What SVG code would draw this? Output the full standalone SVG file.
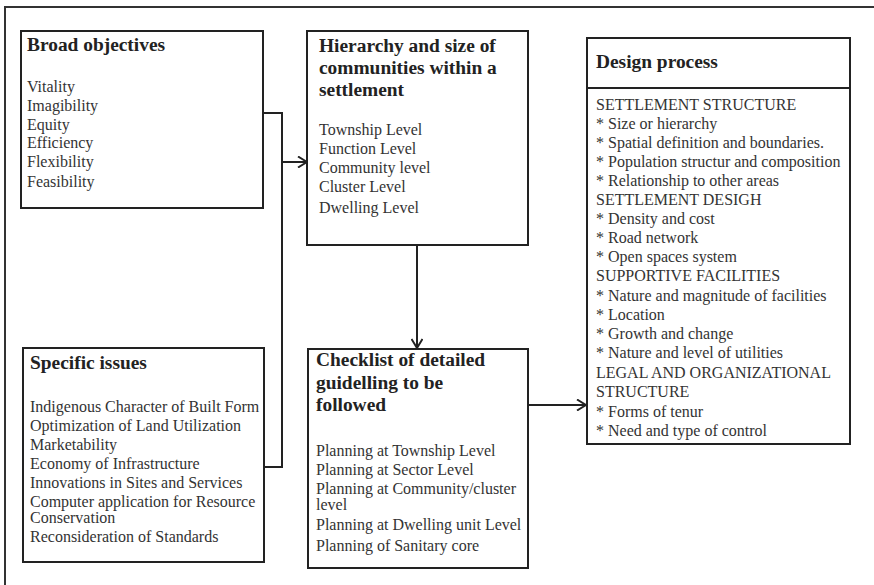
<svg xmlns="http://www.w3.org/2000/svg" width="874" height="585" viewBox="0 0 874 585">
<style>
.box{fill:#fff;stroke:#222;stroke-width:2}
.frame{fill:none;stroke:#333;stroke-width:2}
.ln{fill:none;stroke:#222;stroke-width:2}
.t{font-family:"Liberation Serif","Times New Roman",serif;font-size:16px;fill:#333}
.h{font-family:"Liberation Serif","Times New Roman",serif;font-size:19.4px;font-weight:bold;fill:#222}
</style>
<defs>
<marker id="arr" viewBox="0 0 12 12" refX="11" refY="6" markerWidth="12" markerHeight="12" markerUnits="userSpaceOnUse" orient="auto">
<path d="M2,0.5 L11,6 L2,11.5" fill="none" stroke="#222" stroke-width="2"/>
</marker>
</defs>
<rect width="874" height="585" fill="#fff"/>
<path class="frame" d="M5,585 V7 H874"/>

<g id="broad-objectives">
<rect class="box" x="21" y="31" width="242" height="177"/>
<text class="h" x="27" y="51">Broad objectives</text>
<text class="t" x="27" y="92">Vitality</text>
<text class="t" x="27" y="111">Imagibility</text>
<text class="t" x="27" y="130">Equity</text>
<text class="t" x="27" y="148">Efficiency</text>
<text class="t" x="27" y="167">Flexibility</text>
<text class="t" x="27" y="187">Feasibility</text>
</g>

<g id="specific-issues">
<rect class="box" x="23" y="348" width="241" height="214"/>
<text class="h" x="30" y="369">Specific issues</text>
<text class="t" x="30" y="412">Indigenous Character of Built Form</text>
<text class="t" x="30" y="431">Optimization of Land Utilization</text>
<text class="t" x="30" y="450">Marketability</text>
<text class="t" x="30" y="469">Economy of Infrastructure</text>
<text class="t" x="30" y="488">Innovations in Sites and Services</text>
<text class="t" x="30" y="507">Computer application for Resource</text>
<text class="t" x="30" y="523">Conservation</text>
<text class="t" x="30" y="542">Reconsideration of Standards</text>
</g>

<g id="hierarchy">
<rect class="box" x="307" y="31" width="221" height="214"/>
<text class="h" x="319" y="52">Hierarchy and size of</text>
<text class="h" x="319" y="74">communities within a</text>
<text class="h" x="319" y="96">settlement</text>
<text class="t" x="319" y="135">Township Level</text>
<text class="t" x="319" y="154">Function Level</text>
<text class="t" x="319" y="173">Community level</text>
<text class="t" x="319" y="192">Cluster Level</text>
<text class="t" x="319" y="213">Dwelling Level</text>
</g>

<g id="checklist">
<rect class="box" x="308" y="349" width="220" height="219"/>
<text class="h" x="316" y="366">Checklist of detailed</text>
<text class="h" x="316" y="389">guidelling to be</text>
<text class="h" x="316" y="411">followed</text>
<text class="t" x="316" y="456">Planning at Township Level</text>
<text class="t" x="316" y="475">Planning at Sector Level</text>
<text class="t" x="316" y="494">Planning at Community/cluster</text>
<text class="t" x="316" y="510">level</text>
<text class="t" x="316" y="530">Planning at Dwelling unit Level</text>
<text class="t" x="316" y="551">Planning of Sanitary core</text>
</g>

<g id="design-process">
<rect class="box" x="587" y="38" width="263" height="406"/>
<line class="ln" x1="587" y1="88" x2="850" y2="88"/>
<text class="h" x="596" y="68">Design process</text>
<text class="t" x="596" y="110">SETTLEMENT STRUCTURE</text>
<text class="t" x="596" y="129">* Size or hierarchy</text>
<text class="t" x="596" y="148">* Spatial definition and boundaries.</text>
<text class="t" x="596" y="167">* Population structur and composition</text>
<text class="t" x="596" y="186">* Relationship to other areas</text>
<text class="t" x="596" y="205">SETTLEMENT DESIGH</text>
<text class="t" x="596" y="224">* Density and cost</text>
<text class="t" x="596" y="243">* Road network</text>
<text class="t" x="596" y="262">* Open spaces system</text>
<text class="t" x="596" y="281">SUPPORTIVE FACILITIES</text>
<text class="t" x="596" y="301">* Nature and magnitude of facilities</text>
<text class="t" x="596" y="320">* Location</text>
<text class="t" x="596" y="339">* Growth and change</text>
<text class="t" x="596" y="358">* Nature and level of utilities</text>
<text class="t" x="596" y="378">LEGAL AND ORGANIZATIONAL</text>
<text class="t" x="596" y="397">STRUCTURE</text>
<text class="t" x="596" y="417">* Forms of tenur</text>
<text class="t" x="596" y="436">* Need and type of control</text>
</g>

<g id="connectors">
<path class="ln" d="M263,113 H282 V467 H264"/>
<path class="ln" d="M282,162 H307" marker-end="url(#arr)"/>
<path class="ln" d="M417,245 V348" marker-end="url(#arr)"/>
<path class="ln" d="M528,405 H586" marker-end="url(#arr)"/>
</g>
</svg>
